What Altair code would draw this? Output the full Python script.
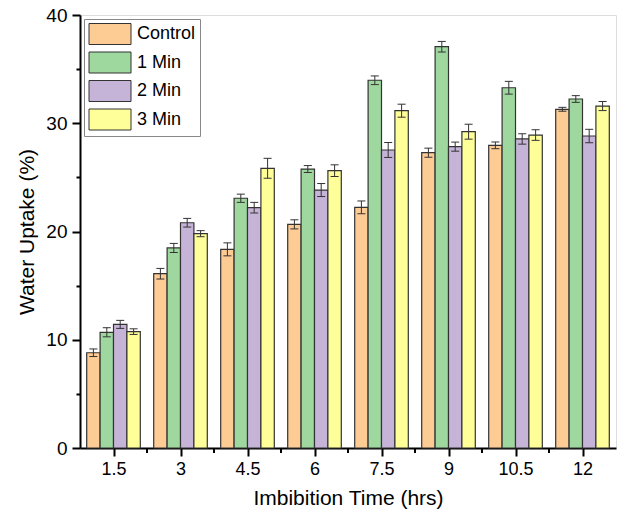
import altair as alt
import pandas as pd

times = [1.5, 3, 4.5, 6, 7.5, 9, 10.5, 12]
x_minor = [2.25, 3.75, 5.25, 6.75, 8.25, 9.75, 11.25]
series = ["Control", "1 Min", "2 Min", "3 Min"]
colors = ["#FDCB94", "#9FD89F", "#C6B3D8", "#FFFF99"]

control = [8.80, 16.10, 18.35, 20.66, 22.23, 27.28, 27.96, 31.29]
min1 = [10.69, 18.48, 23.07, 25.77, 33.97, 37.07, 33.28, 32.24]
min2 = [11.42, 20.81, 22.20, 23.83, 27.53, 27.84, 28.55, 28.82]
min3 = [10.75, 19.80, 25.84, 25.62, 31.16, 29.22, 28.91, 31.59]

control_err = [0.35, 0.49, 0.60, 0.42, 0.59, 0.42, 0.31, 0.18]
min1_err = [0.42, 0.42, 0.38, 0.32, 0.40, 0.49, 0.59, 0.31]
min2_err = [0.37, 0.40, 0.49, 0.60, 0.69, 0.42, 0.48, 0.62]
min3_err = [0.26, 0.28, 0.92, 0.54, 0.60, 0.69, 0.49, 0.42]

rows = []
for i, (s, vals, errs) in enumerate(zip(series, [control, min1, min2, min3],
                                        [control_err, min1_err, min2_err, min3_err])):
    for t, v, e in zip(times, vals, errs):
        rows.append({"Time": t, "Series": s, "Idx": i, "Value": v, "Err": e})
df = pd.DataFrame(rows)

FONT = "Liberation Sans"
BAR_W = 0.3  # width of one bar in x-data units (group = 4 bars)

y_ticks = [5 * k for k in range(9)]

x_scale = alt.Scale(domain=[0.75, 12.75], nice=False, zero=False, padding=0)
y_scale = alt.Scale(domain=[0, 40], nice=False, padding=0)

x_axis = alt.Axis(title="Imbibition Time (hrs)", values=times,
                  labelExpr="format(datum.value, '~g')",
                  tickSize=8, tickWidth=2, tickColor="black",
                  domainColor="black", domainWidth=2, grid=False,
                  labelFontSize=18, titleFontSize=21,
                  labelFont=FONT, titleFont=FONT, labelColor="black",
                  titleColor="black", titleFontWeight="normal",
                  labelPadding=4, titlePadding=9, labelFlush=False,
                  labelOverlap=False)
y_axis = alt.Axis(title="Water Uptake (%)", values=y_ticks,
                  labelExpr="datum.value % 10 === 0 ? datum.label : ''",
                  tickSize={"condition": {"test": "datum.value % 10 === 0", "value": 8}, "value": 4},
                  tickWidth=2, tickColor="black", domainColor="black",
                  domainWidth=2, grid=False, labelFontSize=19, titleFontSize=21,
                  labelFont=FONT, titleFont=FONT, labelColor="black",
                  titleColor="black", titleFontWeight="normal",
                  labelPadding=5, titlePadding=8, labelFlush=False,
                  labelOverlap=False)

base = alt.Chart(df).transform_calculate(
    x0=f"datum.Time - 2 * {BAR_W} + datum.Idx * {BAR_W}",
    x1=f"datum.Time - 2 * {BAR_W} + (datum.Idx + 1) * {BAR_W}",
    xc=f"datum.Time - 2 * {BAR_W} + (datum.Idx + 0.5) * {BAR_W}",
    cl=f"datum.Time - 2 * {BAR_W} + (datum.Idx + 0.5) * {BAR_W} - 0.09",
    cr=f"datum.Time - 2 * {BAR_W} + (datum.Idx + 0.5) * {BAR_W} + 0.09",
    lo="datum.Value - datum.Err",
    hi="datum.Value + datum.Err",
)

bars = base.mark_bar(stroke="#333333", strokeWidth=1.2).encode(
    x=alt.X("x0:Q", scale=x_scale, axis=x_axis),
    x2="x1:Q",
    y=alt.Y("Value:Q", scale=y_scale, axis=y_axis),
    y2=alt.datum(0),
    color=alt.Color("Series:N", sort=series,
                    scale=alt.Scale(domain=series, range=colors),
                    legend=alt.Legend(title=None, orient="top-left", offset=4,
                                      symbolType="M-2,-1H2V1H-2Z",
                                      symbolSize=441, symbolOffset=11,
                                      symbolStrokeColor="#333333",
                                      symbolStrokeWidth=1, symbolOpacity=1,
                                      labelOffset=16, labelFontSize=18,
                                      labelFont=FONT, labelColor="black",
                                      rowPadding=2.5, padding=4,
                                      strokeColor="#888888",
                                      fillColor="white")),
)

err_rule = base.mark_rule(color="#333333", strokeWidth=1).encode(
    x=alt.X("xc:Q", scale=x_scale),
    y=alt.Y("lo:Q", scale=y_scale),
    y2="hi:Q",
)

cap_lo = base.mark_rule(color="#333333", strokeWidth=1).encode(
    x=alt.X("cl:Q", scale=x_scale),
    x2="cr:Q",
    y=alt.Y("lo:Q", scale=y_scale),
)

cap_hi = base.mark_rule(color="#333333", strokeWidth=1).encode(
    x=alt.X("cl:Q", scale=x_scale),
    x2="cr:Q",
    y=alt.Y("hi:Q", scale=y_scale),
)

# minor ticks of the x axis, between the groups
minor_x = alt.Chart(pd.DataFrame({"m": x_minor})).mark_rule(
    color="black", strokeWidth=2
).encode(
    x=alt.X("m:Q", scale=x_scale),
    y=alt.value(433),
    y2=alt.value(438),
)

chart = alt.layer(bars, err_rule, cap_lo, cap_hi, minor_x).properties(
    width=536, height=433,
    autosize=alt.AutoSizeParams(type="none"),
    padding={"left": 80, "top": 15, "right": 3, "bottom": 65},
).configure_view(stroke="black", strokeWidth=2).configure(background="white")

chart.save("out.html", embed_options={"renderer": "svg", "actions": False})
